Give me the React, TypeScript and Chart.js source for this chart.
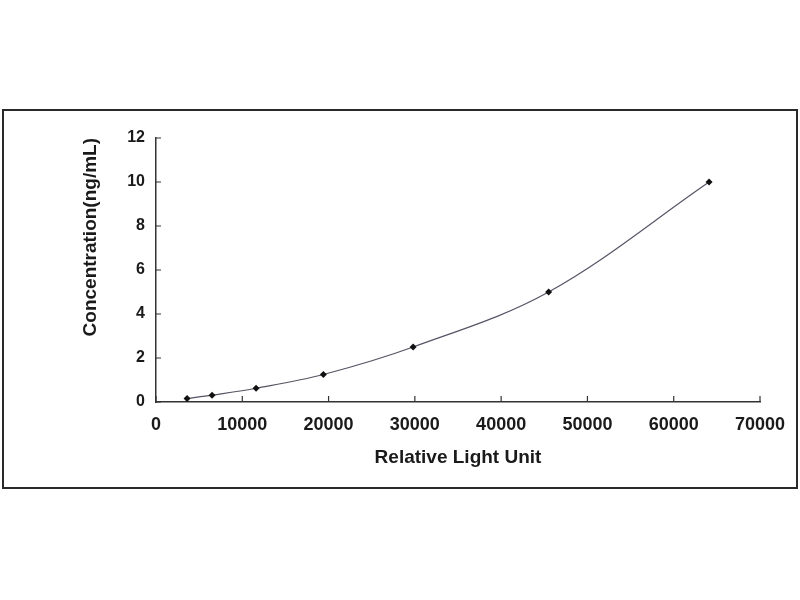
import React, { useEffect, useRef } from "react";
import { Chart, registerables } from "chart.js";

Chart.register(...registerables);

// Data
const lightUnits: number[] = [3600, 6500, 11600, 19400, 29800, 45500, 64100];
const concentrations: number[] = [0.156, 0.312, 0.625, 1.25, 2.5, 5, 10];

const xTitle = "Relative Light Unit";
const yTitle = "Concentration(ng/mL)";

const FONT = "'Liberation Sans', Arial, sans-serif";

const framePlugin = {
  id: "frameAndTicks",
  beforeDraw(chart: any) {
    const ctx = chart.ctx;
    ctx.save();
    ctx.fillStyle = "#ffffff";
    ctx.fillRect(0, 0, chart.width, chart.height);
    ctx.strokeStyle = "#2a2a2a";
    ctx.lineWidth = 2;
    ctx.strokeRect(3, 110, 794, 378);
    ctx.restore();
  },
  afterDraw(chart: any) {
    const ctx = chart.ctx;
    const xs = chart.scales.x;
    const ys = chart.scales.y;
    const area = chart.chartArea;
    ctx.save();
    ctx.strokeStyle = "#333333";
    ctx.lineWidth = 1.2;
    ctx.beginPath();
    xs.ticks.forEach((t: any) => {
      const px = xs.getPixelForValue(t.value);
      ctx.moveTo(px, area.bottom);
      ctx.lineTo(px, area.bottom - 6);
    });
    ys.ticks.forEach((t: any) => {
      const py = ys.getPixelForValue(t.value);
      ctx.moveTo(area.left, py);
      ctx.lineTo(area.left + 5, py);
    });
    ctx.stroke();
    ctx.restore();
  },
};

export default function App() {
  const canvasRef = useRef<HTMLCanvasElement | null>(null);

  useEffect(() => {
    if (!canvasRef.current) return;
    const chart = new Chart(canvasRef.current, {
      type: "scatter",
      data: {
        datasets: [
          {
            data: lightUnits.map((x, i) => ({ x, y: concentrations[i] })),
            showLine: true,
            borderColor: "#555566",
            borderWidth: 1.2,
            tension: 0.35,
            pointStyle: "rectRot",
            pointRadius: 3.5,
            pointBackgroundColor: "#111111",
            pointBorderColor: "#111111",
            pointBorderWidth: 0,
          } as any,
        ],
      },
      options: {
        animation: false,
        responsive: false,
        devicePixelRatio: 1,
        layout: { padding: { left: 0, top: 138, right: 40, bottom: 128 } },
        plugins: {
          legend: { display: false },
          tooltip: { enabled: false },
        },
        scales: {
          x: {
            type: "linear",
            min: 0,
            max: 70000,
            ticks: {
              stepSize: 10000,
              color: "#1a1a1a",
              padding: 12,
              maxRotation: 0,
              callback: (v: any) => String(v),
              font: { family: FONT, size: 18, weight: "bold" },
            },
            grid: { display: false, drawTicks: false },
            border: { display: true, color: "#333333", width: 1.5 },
            title: {
              display: true,
              text: xTitle,
              color: "#1a1a1a",
              padding: { top: 0, bottom: 3 },
              font: { family: FONT, size: 19, weight: "bold" },
            },
            afterFit(scale: any) {
              scale.height = 70;
            },
          },
          y: {
            type: "linear",
            min: 0,
            max: 12,
            ticks: {
              stepSize: 2,
              color: "#1a1a1a",
              padding: 11,
              callback: (v: any) => String(v),
              font: { family: FONT, size: 16, weight: "bold" },
            },
            grid: { display: false, drawTicks: false },
            border: { display: true, color: "#333333", width: 1.5 },
            title: {
              display: true,
              text: yTitle,
              align: "end",
              color: "#1a1a1a",
              padding: { top: 79, bottom: 0 },
              font: { family: FONT, size: 19, weight: "bold" },
            },
            afterFit(scale: any) {
              scale.width = 156;
            },
          },
        },
      } as any,
      plugins: [framePlugin],
    });
    return () => chart.destroy();
  }, []);

  return (
    <div style={{ position: "absolute", left: 0, top: 0, width: 800, height: 600, background: "#fff" }}>
      <canvas ref={canvasRef} width={800} height={600} style={{ display: "block" }} />
    </div>
  );
}
